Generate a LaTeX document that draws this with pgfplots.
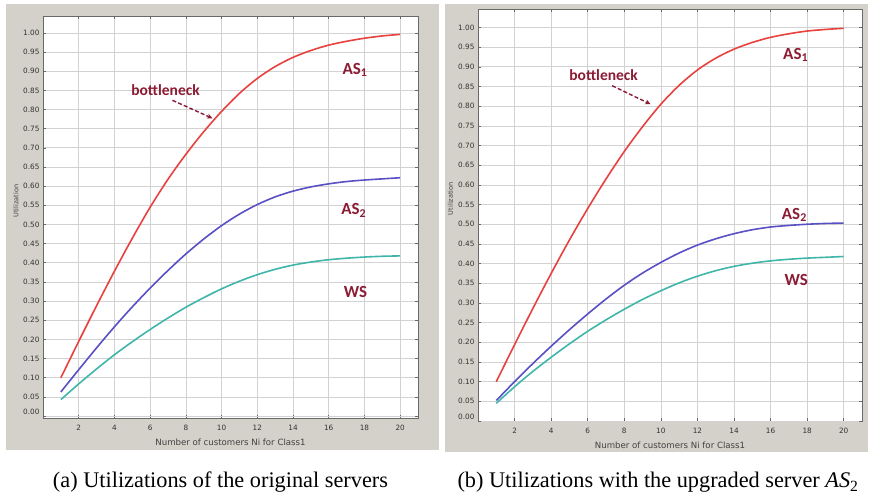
\documentclass[border=0pt]{standalone}
\usepackage{pgfplots}
\pgfplotsset{compat=1.18}
\usepackage{pgfplotstable}
\usepackage{fontspec}
\setmainfont{Liberation Serif}
\newfontfamily\tickfont{DejaVu Sans}
\newfontfamily\notefont{Carlito}
\usetikzlibrary{arrows.meta}

\definecolor{panelgray}{RGB}{212,209,202}
\definecolor{asred}{RGB}{232,66,62}
\definecolor{asblue}{RGB}{88,80,196}
\definecolor{wsteal}{RGB}{64,182,170}
\definecolor{notecolor}{RGB}{140,28,52}
\definecolor{gridgray}{RGB}{210,210,210}
\definecolor{framegray}{RGB}{105,105,105}

% Utilization vs. number of class-1 customers, original servers
\pgfplotstableread{
N   AS1    AS2    WS
1   0.100  0.063  0.043
2   0.195  0.121  0.084
3   0.288  0.178  0.123
4   0.378  0.233  0.160
5   0.464  0.285  0.194
6   0.545  0.334  0.226
7   0.618  0.380  0.256
8   0.683  0.423  0.284
9   0.742  0.462  0.309
10  0.795  0.497  0.332
11  0.842  0.527  0.352
12  0.881  0.552  0.369
13  0.912  0.572  0.383
14  0.936  0.587  0.394
15  0.954  0.598  0.402
16  0.968  0.606  0.408
17  0.978  0.612  0.412
18  0.986  0.616  0.415
19  0.992  0.619  0.417
20  0.996  0.622  0.418
}\original

% Same model with the upgraded AS2
\pgfplotstableread{
N   AS1    AS2    WS
1   0.100  0.052  0.045
2   0.194  0.100  0.087
3   0.286  0.146  0.126
4   0.375  0.190  0.162
5   0.460  0.232  0.196
6   0.540  0.272  0.228
7   0.615  0.310  0.257
8   0.685  0.345  0.284
9   0.748  0.376  0.309
10  0.805  0.403  0.331
11  0.853  0.427  0.351
12  0.892  0.447  0.368
13  0.922  0.463  0.382
14  0.945  0.476  0.393
15  0.962  0.486  0.401
16  0.975  0.493  0.407
17  0.984  0.497  0.411
18  0.991  0.500  0.414
19  0.995  0.502  0.416
20  0.998  0.503  0.418
}\upgraded

\pgfplotsset{
  util/.style={
    scale only axis,
    xmin=0, xmax=21,
    xtick={2,4,...,20},
    ytick={0.05,0.10,0.15,0.20,0.25,0.30,0.35,0.40,0.45,0.50,0.55,0.60,0.65,0.70,0.75,0.80,0.85,0.90,0.95,1.00},
    extra y ticks={0},
    extra y tick style={yticklabel style={yshift=4pt}},
    grid=major,
    major grid style={gridgray, line width=0.7pt},
    axis line style={framegray, line width=0.8pt},
    tick style={framegray, line width=0.6pt},
    major tick length=3pt,
    axis background/.style={fill=white},
    /pgf/number format/assume math mode=true,
    tick label style={font=\tickfont\fontsize{7.3}{8}\selectfont, text=black!80},
    yticklabel style={/pgf/number format/fixed, /pgf/number format/fixed zerofill, /pgf/number format/precision=2},
    xticklabel style={yshift=-4pt},
    xlabel={Number of customers Ni for Class1},
    ylabel={Utilization},
    xlabel style={font=\tickfont\fontsize{8.6}{9}\selectfont, text=black!75,
      at={(axis description cs:0.5,0)}, anchor=center, yshift=-24pt},
    ylabel style={font=\tickfont\fontsize{6.6}{7}\selectfont, text=black!75,
      at={(axis description cs:-0.072,0.54)}, anchor=center},
    every axis plot/.append style={line width=1.6pt, no marks, smooth},
  },
}
\tikzset{
  serverlabel/.style={font=\notefont\bfseries\fontsize{17}{18}\selectfont, text=notecolor},
  bneck/.style={font=\notefont\bfseries\fontsize{15.5}{16}\selectfont, text=notecolor},
  barrow/.style={draw=notecolor, line width=1.4pt, dash pattern=on 4pt off 2.2pt,
    -{Stealth[length=5.5pt, width=5pt, fill=notecolor]}},
}

\begin{document}
\begin{tikzpicture}
\path[fill=white, use as bounding box] (0,0) rectangle (869pt,496pt);
\fill[panelgray] (6pt,46pt) rectangle (439pt,492pt);
\fill[panelgray] (445pt,44pt) rectangle (868pt,492pt);

% (a) original servers
\begin{axis}[util, at={(43pt,78pt)}, anchor=south west,
  width=375pt, height=402pt, ymin=-0.005, ymax=1.044]
  \addplot[asred]  table[x=N, y=AS1] {\original};
  \addplot[asblue] table[x=N, y=AS2] {\original};
  \addplot[wsteal] table[x=N, y=WS]  {\original};
  \node[bneck] at (axis cs:6.86,0.85) {bottleneck};
  \draw[barrow] (axis cs:7.25,0.824) -- (axis cs:9.49,0.777);
  \node[serverlabel] at (axis cs:17.47,0.903) {AS\textsubscript{1}};
  \node[serverlabel] at (axis cs:17.4,0.537) {AS\textsubscript{2}};
  \node[serverlabel] at (axis cs:17.5,0.325) {WS};
\end{axis}

% (b) upgraded AS2
\begin{axis}[util, at={(478pt,75pt)}, anchor=south west,
  width=384pt, height=412pt, ymin=0, ymax=1.047]
  \addplot[asred]  table[x=N, y=AS1] {\upgraded};
  \addplot[asblue] table[x=N, y=AS2] {\upgraded};
  \addplot[wsteal] table[x=N, y=WS]  {\upgraded};
  \node[bneck] at (axis cs:6.87,0.88) {bottleneck};
  \draw[barrow] (axis cs:7.34,0.852) -- (axis cs:9.44,0.805);
  \node[serverlabel] at (axis cs:17.37,0.93) {AS\textsubscript{1}};
  \node[serverlabel] at (axis cs:17.3,0.524) {AS\textsubscript{2}};
  \node[serverlabel] at (axis cs:17.4,0.358) {WS};
\end{axis}

\node[font=\fontsize{22.3}{24}\selectfont] at (220.5pt,13.5pt) {(a) Utilizations of the original servers};
\node[font=\fontsize{22.3}{24}\selectfont] at (658pt,13.5pt) {(b) Utilizations with the upgraded server \textit{AS}\textsubscript{2}};
\end{tikzpicture}
\end{document}
